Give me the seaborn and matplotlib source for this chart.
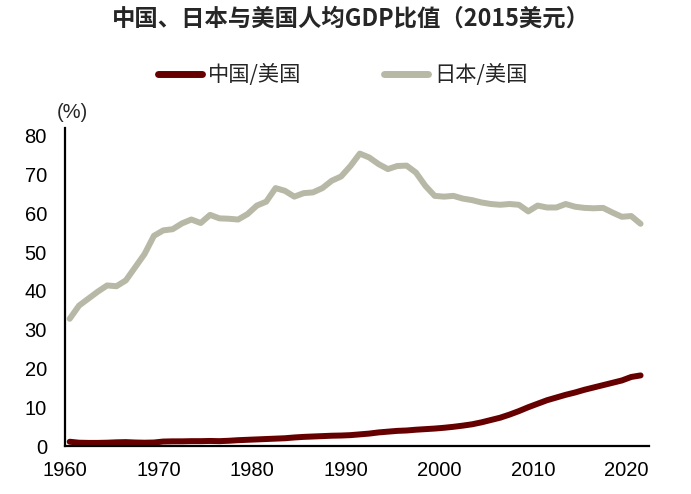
import numpy as np
import pandas as pd
import matplotlib
matplotlib.use("Agg")
import matplotlib.pyplot as plt
import seaborn as sns
from matplotlib.lines import Line2D

years = list(range(1960, 2022))
china_us = [1.1, 0.85, 0.8, 0.8, 0.85, 0.95, 1.0, 0.9, 0.85, 0.9,
            1.15, 1.2, 1.2, 1.25, 1.25, 1.3, 1.25, 1.35, 1.5, 1.6,
            1.7, 1.8, 1.9, 2.0, 2.2, 2.35, 2.45, 2.55, 2.65, 2.7,
            2.8, 3.0, 3.2, 3.5, 3.7, 3.9, 4.0, 4.2, 4.35, 4.5,
            4.7, 4.95, 5.25, 5.6, 6.1, 6.7, 7.3, 8.1, 9.0, 10.0,
            10.9, 11.8, 12.5, 13.2, 13.8, 14.5, 15.1, 15.7, 16.3, 16.9,
            17.8, 18.2]
japan_us = [32.8, 36.2, 38.0, 39.8, 41.4, 41.2, 42.7, 46.1, 49.5, 54.2,
            55.6, 55.9, 57.4, 58.4, 57.5, 59.6, 58.7, 58.6, 58.4, 59.8,
            62.0, 63.0, 66.5, 65.8, 64.3, 65.2, 65.4, 66.5, 68.4, 69.5,
            72.2, 75.4, 74.4, 72.7, 71.4, 72.2, 72.3, 70.5, 67.1, 64.5,
            64.3, 64.5, 63.8, 63.4, 62.8, 62.4, 62.2, 62.4, 62.2, 60.5,
            62.0, 61.5, 61.5, 62.4, 61.7, 61.4, 61.3, 61.4, 60.2, 59.1,
            59.3, 57.3]
series_names = ["中国/美国", "日本/美国"]
x_tick_years = [1960, 1970, 1980, 1990, 2000, 2010, 2020]
y_ticks = [0, 10, 20, 30, 40, 50, 60, 70, 80]
title = "中国、日本与美国人均GDP比值（2015美元）"
unit_label = "(%)"

df = pd.DataFrame({
    "year": years * 2,
    "value": china_us + japan_us,
    "series": [series_names[0]] * len(years) + [series_names[1]] * len(years),
})

sns.set_style("white")
plt.rcParams["font.family"] = ["Liberation Sans", "Noto Sans CJK SC", "DejaVu Sans"]

fig = plt.figure(figsize=(6.91, 4.94), dpi=100)
ax = fig.add_axes([65 / 691, 1 - 446 / 494, (649 - 65) / 691, (446 - 128) / 494])

palette = {series_names[0]: "#660000", series_names[1]: "#B8B8A7"}
sns.lineplot(data=df, x="year", y="value", hue="series", palette=palette,
             linewidth=4.3, ax=ax, legend=False, solid_capstyle="round")

ax.set_xlim(1959.5, 2021.9)
ax.set_ylim(0, 82)
ax.set_xticks([y - 0.5 for y in x_tick_years])
ax.set_xticklabels([str(y) for y in x_tick_years])
ax.set_yticks(y_ticks)
ax.set_yticklabels([str(v) for v in y_ticks])
ax.set_xlabel("")
ax.set_ylabel("")

for s in ["top", "right"]:
    ax.spines[s].set_visible(False)
for s in ["left", "bottom"]:
    ax.spines[s].set_color("black")
    ax.spines[s].set_linewidth(1.6)

ax.tick_params(axis="x", direction="in", length=4, width=1.4, color="black",
               labelsize=14.5, pad=11, labelcolor="black")
ax.tick_params(axis="y", length=0, labelsize=14.5, pad=13, labelcolor="black")

ax.text(0.012, 1.05, unit_label, transform=ax.transAxes, fontsize=14.5,
        ha="center", va="center", family=["Liberation Sans"])

handles = [Line2D([0], [0], color=palette[n], linewidth=5, solid_capstyle="round")
           for n in series_names]
fig.legend(handles, series_names, loc="center", bbox_to_anchor=(0.496, 1 - 75 / 494),
           ncol=2, frameon=False, handlelength=2.05, handletextpad=0.3,
           columnspacing=3.9, prop={"family": ["Noto Sans CJK SC"], "size": 15.3})

fig.text(0.508, 1 - 19 / 494, title, ha="center", va="center", fontsize=16.8,
         fontweight="bold", family=["Noto Sans CJK SC", "DejaVu Sans"])

fig.savefig("out.png", dpi=100)
